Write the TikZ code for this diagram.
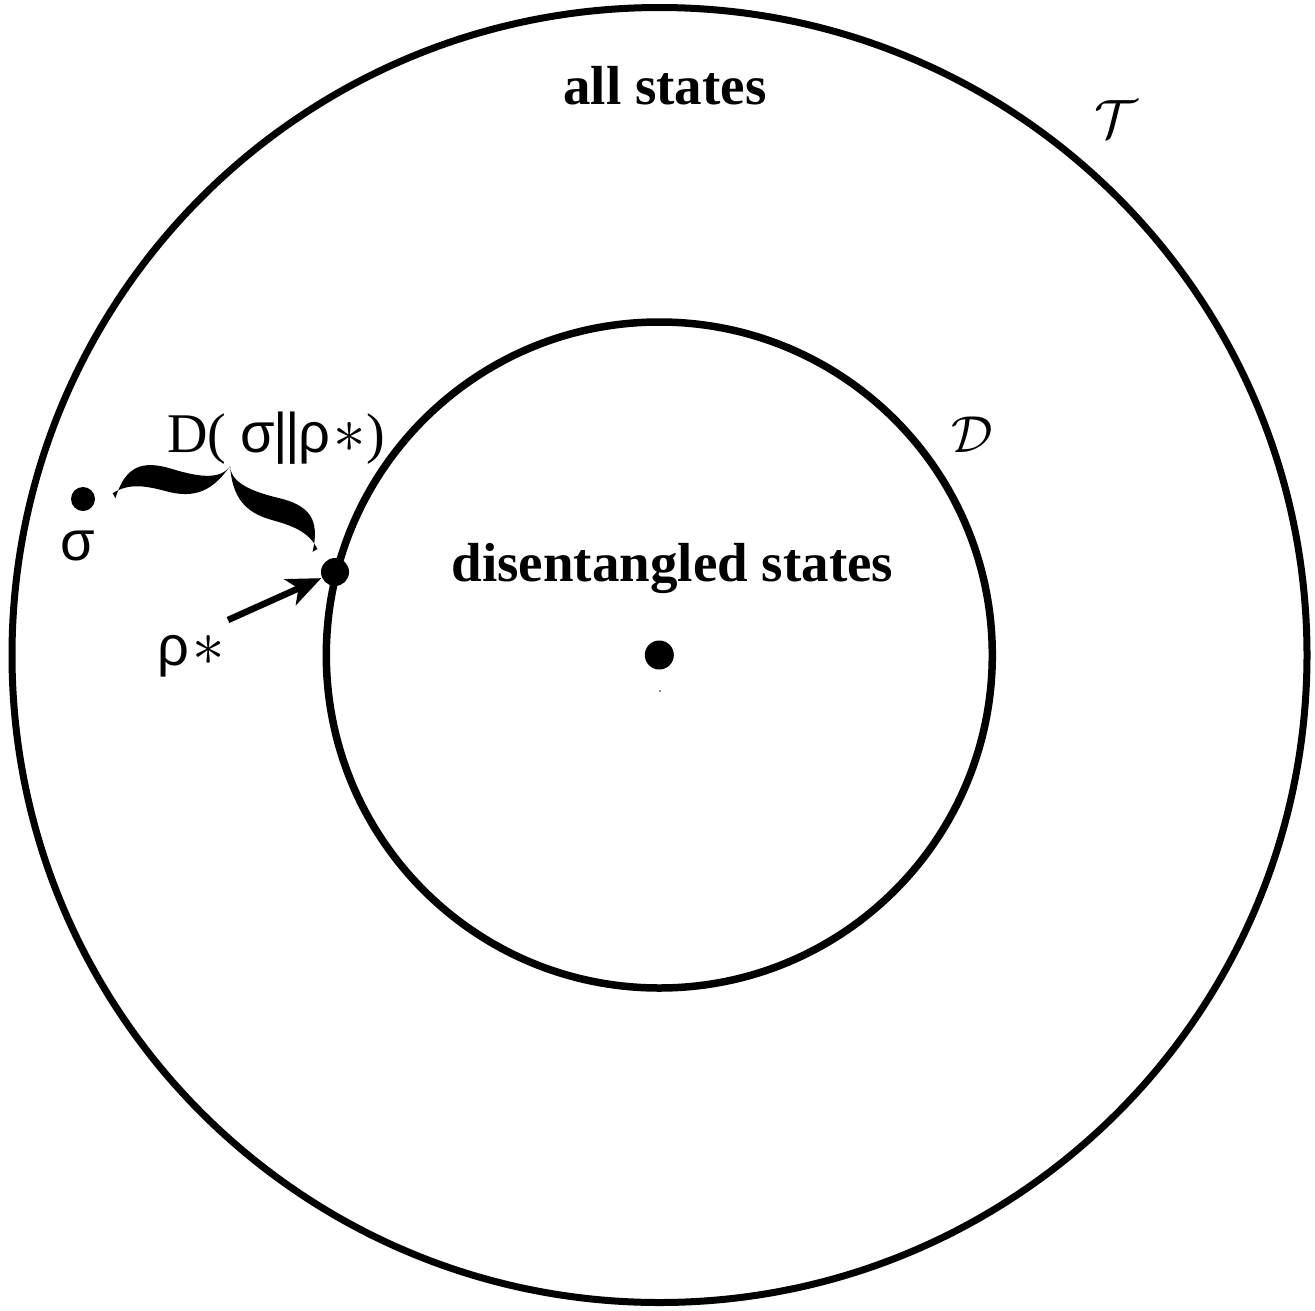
\documentclass[tikz,border=0pt]{standalone}
\usepackage{graphicx}
\usepackage{fontspec}
\setmainfont{Liberation Serif}
\newfontfamily\greekfont{Liberation Sans}
\usetikzlibrary{arrows.meta}
\newcommand{\bigast}{\scalebox{2.6}{$\ast$}}
\begin{document}
\begin{tikzpicture}[x=1pt,y=-1pt,
  ring/.style={draw=black,line width=7pt},
  dotnode/.style={circle,fill=black,inner sep=0pt,minimum size=#1},
  bigtext/.style={inner sep=0pt,font=\fontsize{55}{60}\selectfont\bfseries},
  lbl/.style={inner sep=0pt,font=\fontsize{56}{62}\selectfont},
  callig/.style={inner sep=0pt},
  pointer/.style={line width=6.5pt,-{Stealth[length=34pt,width=28pt,inset=9pt]},shorten >=15pt}]
\useasboundingbox (0,0) rectangle (1315,1310);
% circles
\draw[ring] (659.5,655) circle[radius=647.5pt];
\draw[ring,line width=7.5pt] (659.3,655) circle[radius=333pt];
% texts
\node[bigtext,anchor=base] (allst) at (665,104) {all states};
\node[bigtext,anchor=base] (disst) at (672.5,581) {disentangled states};
\node[callig] (calT) at (1116,119) {\scalebox{5.4}{$\mathcal{T}$}};
\node[callig] (calD) at (972,435) {\scalebox{5.2}{$\mathcal{D}$}};
% dots
\node[dotnode=24pt] (sigmadot) at (83,499) {};
\node[dotnode=28pt] (rhodot) at (335,572) {};
\node[dotnode=29pt] (centerdot) at (659.3,655) {};
\node[dotnode=2.4pt,fill=black!60] (speck) at (660,691) {};
% labels
\node[lbl,anchor=base] (sigmalbl) at (77.5,560) {\greekfont σ};
\node[lbl,anchor=base west] (rholbl) at (157,665) {{\greekfont ρ}\kern3pt\bigast};
\node[lbl,anchor=base west] (distlbl) at (167,452) {D( {\greekfont σ\kern-1pt|\kern-3pt|\kern-1pt ρ}\kern3pt\bigast)};
% arrow
\coordinate (arrtail) at (228,620);
\draw[pointer] (arrtail) -- (rhodot.center);
% brace
\begin{scope}[shift={(214,525)},x={(0.966pt,-0.263pt)},y={(0.263pt,0.966pt)}]
\fill[black] (-102,0) .. controls (-101,34) and (-86,44) .. (-55,43)
  .. controls (-25,42) and (-5,46) .. (0,61)
  .. controls (-10,33) and (-25,20) .. (-55,20)
  .. controls (-80,20) and (-94,17) .. (-106,4) -- cycle;
\fill[black] (102,0) .. controls (101,34) and (86,44) .. (55,43)
  .. controls (25,42) and (5,46) .. (0,61)
  .. controls (10,33) and (25,20) .. (55,20)
  .. controls (80,20) and (94,17) .. (106,4) -- cycle;
\end{scope}
\end{tikzpicture}
\end{document}
